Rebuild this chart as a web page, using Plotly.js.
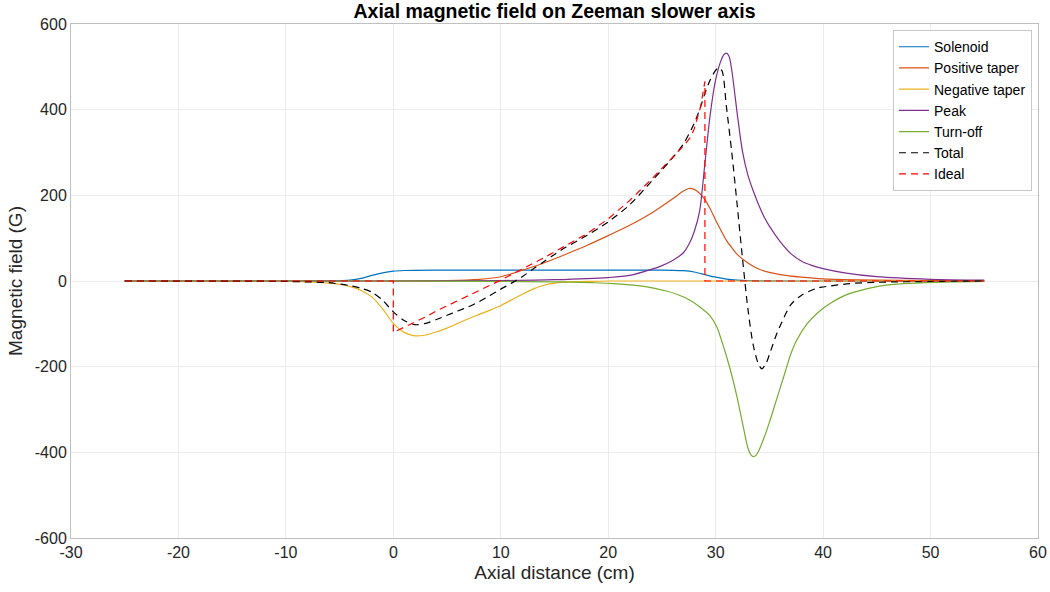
<!DOCTYPE html>
<html>
<head>
<meta charset="utf-8">
<script src="https://cdn.plot.ly/plotly-3.0.1.min.js"></script>
<style>html,body{margin:0;padding:0;background:#fff;}#chart{width:1050px;height:592px;}</style>
</head>
<body>
<div id="chart"></div>
<script>
// Solenoid
var solX = [-25,-10,-6,-5,-4,-3,-2,-1,0,1,2,5,10,15,20,25,26,27,28,29,30,31,32,33,35,40,45,55];
var solY = [0,0,0.3,1,2,6,13,19,23,24.5,25,25.3,25.5,25.5,25.5,25.3,25,24,21,15,9,4.5,2,0.8,0.2,0,0,0];
// Positive taper
var posX = [-25,0,5,8,10,12,14,16,18,20,22,24,26,27,27.5,28,28.5,29,29.5,30,30.5,31,31.5,32,33,34,35,36,38,40,45,50,55];
var posY = [0,0,1,4,10,25,42,62,83,106,130,158,192,210,216,214,205,190,168,142,118,95,78,62,42,28,20,15,9,5,2,1,0];
// Negative taper
var negX = [-25,-12,-10,-8,-6,-5,-4,-3,-2,-1,0,1,2,3,4,5,6,7,8,9,10,11,12,13,14,15,16,18,20,25,55];
var negY = [0,-0.5,-1,-2,-5,-8,-13,-22,-37,-65,-99,-120,-128,-126,-119,-110,-99,-88,-78,-68,-57,-44,-31,-19,-10,-5,-2,-1,0,0,0];
// Peak
var peakX = [-25,0,10,15,20,22,24,25,26,26.5,27,27.5,28,28.5,29,29.5,30,30.5,30.75,31,31.25,31.5,32,32.5,33,33.5,34,34.5,35,36,37,38,39,40,42,45,50,55];
var peakY = [0,0,1,3,8,13,27,36,48,56,66,85,115,162,275,390,470,515,528,532,524,492,392,302,247,210,178,150,128,92,64,46,36,29,19,10,4,2];
// Turn-off
var turnX = [-25,0,10,15,18.5,20.5,23.5,25.5,26.5,27.5,28.5,29.5,30.1,30.5,31,31.5,32,32.5,33,33.25,33.5,33.75,34,34.5,35,35.5,36,36.5,37,37.5,38.5,39.5,40.5,41.5,42.5,43.5,45.5,47.5,50.5,55];
var turnY = [0,0,-1,-2,-4,-6,-13,-24,-32,-43,-60,-82,-107,-135,-175,-220,-272,-332,-390,-405,-410,-407,-397,-366,-330,-290,-250,-210,-170,-140,-100,-74,-55,-40,-29,-22,-11,-6,-3,-1];
// Total
var totX = [-25,-12,-10,-8,-6,-4,-3,-2,-1,0,1,2,3,4,5,6,7,8,9,10,11,12,13,14,15,16,18,20,22,24,26,27,28,28.6,29,29.5,30,30.3,30.6,31,31.5,32,32.5,33,33.5,34,34.3,34.7,35,35.7,36,37,38,39.4,40,42.5,45,50,55];
var totY = [0,-0.5,-1,-2,-4,-11,-17,-26,-45,-72,-92,-102,-99,-90,-80,-70,-60,-48,-34,-19,-5,10,28,45,62,78,106,138,178,232,288,320,368,407,438,470,492,498,490,407,300,178,52,-65,-150,-195,-205,-192,-172,-122,-105,-55,-33,-17,-14,-6,-3,-1,0];
// Ideal
var idlX = [-25,0,0,1,2,3,4,6,8,10,12,14,16,18,20,22,24,26,27,27.7,28,28.6,29,29,55];
var idlY = [0,0,-120,-108,-96,-84,-70,-46,-22,2,28,54,82,110,145,188,237,288,315,337,355,407,466,0,0];

var yTickVals = [600,400,200,0,-200,-400,-600];
var yTickText = ['600','400','200','0','-200','-400','-600'];
var xTickVals = [-30,-20,-10,0,10,20,30,40,50,60];
var xTickText = ['-30','-20','-10','0','10','20','30','40','50','60'];

var lw = 1.2;
function ln(c, extra) { var o = {color: c, width: lw, shape: 'spline', smoothing: 0.8}; for (var k in extra) o[k] = extra[k]; return o; }
var traces = [
  {x: solX, y: solY, name: 'Solenoid', mode: 'lines', line: ln('#0072BD', {})},
  {x: posX, y: posY, name: 'Positive taper', mode: 'lines', line: ln('#D95319', {})},
  {x: negX, y: negY, name: 'Negative taper', mode: 'lines', line: ln('#EDB120', {})},
  {x: peakX, y: peakY, name: 'Peak', mode: 'lines', line: ln('#7E2F8E', {})},
  {x: turnX, y: turnY, name: 'Turn-off', mode: 'lines', line: ln('#77AC30', {})},
  {x: totX, y: totY, name: 'Total', mode: 'lines', line: ln('#000000', {dash: '7px,5px'})},
  {x: idlX, y: idlY, name: 'Ideal', mode: 'lines', line: {color: '#FF0000', width: 1.2, dash: '7px,5px'}}
];

var fontFam = 'Liberation Sans, Arial, Helvetica, sans-serif';
var layout = {
  width: 1050, height: 592,
  margin: {l: 71, r: 12, t: 24, b: 54},
  paper_bgcolor: '#ffffff', plot_bgcolor: '#ffffff',
  font: {family: fontFam, color: '#262626', size: 16},
  title: {text: '<b>Axial magnetic field on Zeeman slower axis</b>', x: 0.5, xref: 'paper', xanchor: 'center', y: 0.981, yref: 'container', yanchor: 'middle', font: {family: fontFam, size: 19.5, color: '#000'}},
  xaxis: {
    range: [-30, 60], tickmode: 'array', tickvals: xTickVals, ticktext: xTickText,
    showgrid: true, gridcolor: '#ececec', gridwidth: 1, zeroline: false,
    showline: true, mirror: true, linecolor: '#bfbfbf', linewidth: 1,
    ticks: '', tickfont: {size: 16, color: '#262626'},
    title: {text: 'Axial distance (cm)', font: {size: 19, color: '#262626'}, standoff: 5}
  },
  yaxis: {
    range: [-600, 600], tickmode: 'array', tickvals: yTickVals, ticktext: yTickText,
    showgrid: true, gridcolor: '#ececec', gridwidth: 1, zeroline: false,
    showline: true, mirror: true, linecolor: '#bfbfbf', linewidth: 1,
    ticks: '', tickfont: {size: 16, color: '#262626'},
    title: {text: 'Magnetic field (G)', font: {size: 19, color: '#262626'}, standoff: 7}
  },
  showlegend: true,
  legend: {x: 0.9938, y: 0.988, xanchor: 'right', yanchor: 'top', bgcolor: '#ffffff', bordercolor: '#c8c8c8', borderwidth: 1, font: {size: 14, color: '#000'}, tracegroupgap: 0, itemwidth: 30}
};

Plotly.newPlot('chart', traces, layout, {displayModeBar: false, staticPlot: true});
</script>
</body>
</html>
